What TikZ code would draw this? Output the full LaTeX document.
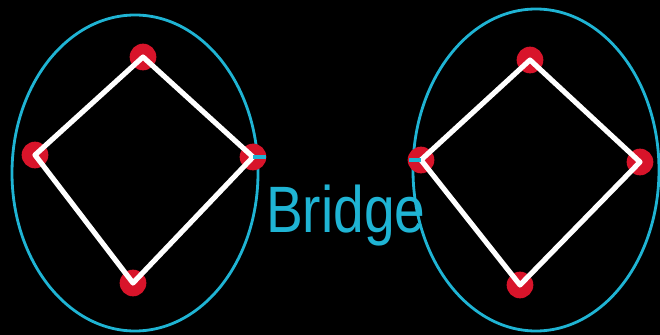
\documentclass[tikz,border=0pt]{standalone}
\usepackage{fontspec}
\setmainfont{Liberation Sans}
\usetikzlibrary{calc, positioning}
\definecolor{bridgecyan}{HTML}{1FB4D4}
\definecolor{dotred}{HTML}{D8142A}

\begin{document}
\begin{tikzpicture}[
  x=0.03cm, y=-0.03cm,
  vertex/.style={circle, fill=dotred, minimum size=0.8cm, inner sep=0pt},
  edge/.style={white, line width=4.4pt},
  blob/.style={draw=bridgecyan, line width=2.4pt},
  tick/.style={bridgecyan, line width=4pt}
]
  \fill[black] (0,0) rectangle (660,335);
  \useasboundingbox (0,0) rectangle (660,335);

  % Components
  \draw[blob] (135,173) ellipse [x radius=123, y radius=158];
  \draw[blob] (536,170) ellipse [x radius=123, y radius=161];

  % Left square
  \node[vertex] (lt) at (143,57) {};
  \node[vertex] (ll) at (35,155) {};
  \node[vertex] (lr) at (253,157) {};
  \node[vertex] (lb) at (133,283) {};
  \draw[edge, line join=round] (lt.center) -- (lr.center) -- (lb.center) -- (ll.center) -- cycle;

  % Right square
  \node[vertex] (rt) at (530,60) {};
  \node[vertex] (rl) at (421,160) {};
  \node[vertex] (rr) at (640,162) {};
  \node[vertex] (rb) at (520,285) {};
  \draw[edge, line join=round] (rt.center) -- (rr.center) -- (rb.center) -- (rl.center) -- cycle;

  % Bridge marks
  \coordinate (lmark) at (266,157);
  \coordinate (rmark) at (409,160);
  \draw[tick] (lr.center) -- (lmark);
  \draw[tick] (rl.center) -- (rmark);

  \node[anchor=base west, inner sep=0pt, text=bridgecyan, font=\fontsize{56}{56}\selectfont] (label) at (266,232) {\scalebox{0.84}[1]{Bridge}};
\end{tikzpicture}
\end{document}
